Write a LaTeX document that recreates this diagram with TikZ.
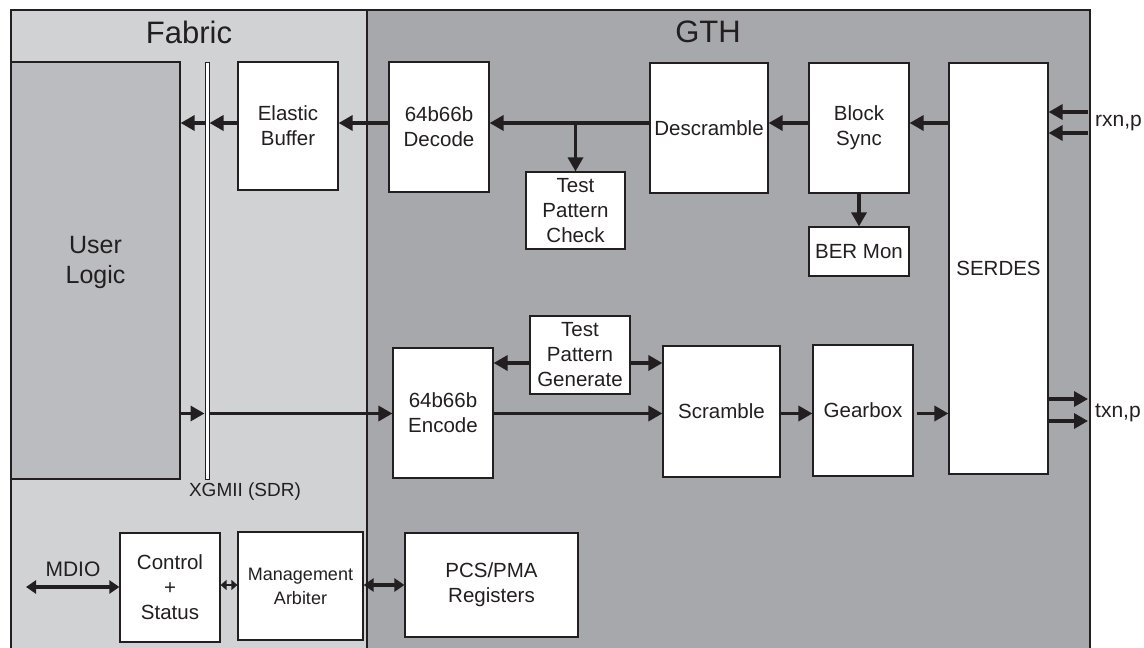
\documentclass[tikz,border=0pt]{standalone}
\usepackage{fontspec}
\setmainfont{Liberation Sans}
\usetikzlibrary{arrows.meta}
\definecolor{fab}{HTML}{D1D2D4}
\definecolor{gth}{HTML}{A7A8AC}
\definecolor{ulc}{HTML}{BBBCC0}
\definecolor{ink}{HTML}{231F20}
\begin{document}
\begin{tikzpicture}[x=1pt,y=-1pt,
  blk/.style={draw=ink, line width=1.2pt, fill=white, inner sep=0pt, align=center,
    font=\fontsize{20.5}{25}\selectfont, text=ink},
  lbl/.style={inner sep=0pt, text=ink, font=\fontsize{20.5}{25}\selectfont},
  arr/.style={draw=ink, line width=3.3pt, -{Triangle[length=14pt,width=15pt]}},
  darr/.style={draw=ink, line width=3.3pt, {Triangle[length=10pt,width=13pt]}-{Triangle[length=10pt,width=13pt]}},
  sarr/.style={draw=ink, line width=2pt, {Triangle[length=6pt,width=10pt]}-{Triangle[length=6pt,width=10pt]}},
  border/.style={draw=ink, line width=1.2pt}
]
\useasboundingbox (0,0) rectangle (1144,648);
\fill[fab] (11,10) rectangle (367,650);
\fill[gth] (367,10) rectangle (1090,650);
\draw[border] (11,650) -- (11,10) -- (1090,10) -- (1090,650);
\draw[border] (367,10) -- (367,650);

% titles
\node[lbl, font=\fontsize{31}{36}\selectfont] (tfab) at (189,32) {Fabric};
\node[lbl, font=\fontsize{31}{36}\selectfont] (tgth) at (708,32) {GTH};

% blocks
\node[blk, fill=ulc, minimum width=169pt, minimum height=417pt, font=\fontsize{25}{30}\selectfont, text depth=21pt] (ul) at (95.5,270.5) {User\\Logic};
\node[draw=ink, line width=1pt, fill=white, inner sep=0pt, minimum width=4pt, minimum height=417pt] (bar) at (207,270.5) {};
\node[blk, minimum width=100pt, minimum height=128pt] (eb) at (288,126) {Elastic\\Buffer};
\node[blk, minimum width=100pt, minimum height=130pt] (dec) at (439,127) {64b66b\\Decode};
\node[blk, minimum width=99pt, minimum height=77pt] (tpc) at (575.5,210.5) {Test\\Pattern\\Check};
\node[blk, minimum width=118pt, minimum height=130pt] (des) at (709,128) {Descramble};
\node[blk, minimum width=100pt, minimum height=130pt] (bs) at (859,128) {Block\\Sync};
\node[blk, minimum width=100pt, minimum height=49pt] (ber) at (859,251.5) {BER Mon};
\node[blk, minimum width=99pt, minimum height=411pt] (serdes) at (998.5,268.5) {SERDES};
\node[blk, minimum width=100pt, minimum height=130pt] (enc) at (443,413) {64b66b\\Encode};
\node[blk, minimum width=100pt, minimum height=78pt] (tpg) at (580,355) {Test\\Pattern\\Generate};
\node[blk, minimum width=117pt, minimum height=131pt] (scr) at (721.5,411.5) {Scramble};
\node[blk, minimum width=100pt, minimum height=131pt] (gb) at (863,410.5) {Gearbox};
\node[blk, minimum width=100pt, minimum height=109pt] (cs) at (170,587.5) {Control\\+\\Status};
\node[blk, minimum width=125pt, minimum height=108pt, font=\fontsize{18}{24}\selectfont] (ma) at (300.5,586) {Management\\Arbiter};
\node[blk, minimum width=173pt, minimum height=104pt] (pcs) at (491.5,585) {PCS/PMA\\Registers};

% labels
\node[lbl, font=\fontsize{19}{22}\selectfont] (xg) at (245,492) {XGMII (SDR)};
\node[lbl, font=\fontsize{21}{25}\selectfont] (mdiol) at (73,569) {MDIO};
\node[lbl, anchor=west, font=\fontsize{21}{25}\selectfont] (rxl) at (1095,123) {rxn,p};
\node[lbl, anchor=west, font=\fontsize{21}{25}\selectfont] (txl) at (1095,413) {txn,p};

% rows
\coordinate (r1) at (0,123);
\coordinate (r2) at (0,413.5);
\coordinate (r3) at (0,363);
\coordinate (r4) at (0,585);
\coordinate (rxa) at (1088,112);
\coordinate (rxb) at (1088,133);
\coordinate (txa) at (1088,399);
\coordinate (txb) at (1088,421);
\coordinate (mdio) at (26,587);

% receive path
\draw[arr] (rxa) -- (serdes.east |- rxa);
\draw[arr] (rxb) -- (serdes.east |- rxb);
\draw[arr] (serdes.west |- r1) -- (bs.east |- r1);
\draw[arr] (bs.west |- r1) -- (des.east |- r1);
\draw[arr] (des.west |- r1) -- (dec.east |- r1);
\draw[arr] (tpc.north |- r1) -- (tpc.north);
\draw[arr] (bs.south) -- (ber.north);
\draw[arr] (dec.west |- r1) -- (eb.east |- r1);
\draw[arr] (eb.west |- r1) -- (bar.east |- r1);
\draw[arr] (bar.west |- r1) -- (ul.east |- r1);

% transmit path
\draw[arr] (ul.east |- r2) -- (bar.west |- r2);
\draw[arr] (bar.east |- r2) -- (enc.west |- r2);
\draw[arr] (enc.east |- r2) -- (scr.west |- r2);
\draw[arr] (tpg.west |- r3) -- (enc.east |- r3);
\draw[arr] (tpg.east |- r3) -- (scr.west |- r3);
\draw[arr] (scr.east |- r2) -- (gb.west |- r2);
\draw[arr] ([xshift=3pt]gb.east |- r2) -- (serdes.west |- r2);
\draw[arr] (serdes.east |- txa) -- (txa);
\draw[arr] (serdes.east |- txb) -- (txb);

% management
\draw[darr] (mdio) -- (cs.west |- mdio);
\draw[sarr] (cs.east |- r4) -- (ma.west |- r4);
\draw[darr] (ma.east |- r4) -- (pcs.west |- r4);
\end{tikzpicture}
\end{document}
